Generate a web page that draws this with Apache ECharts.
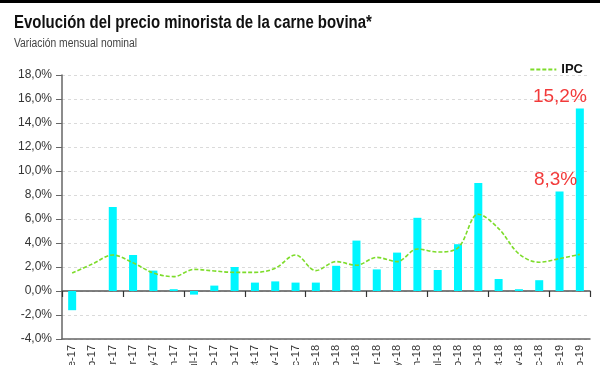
<!DOCTYPE html>
<html><head><meta charset="utf-8">
<script src="https://cdn.jsdelivr.net/npm/echarts@6/dist/echarts.min.js"></script>
<style>html,body{margin:0;padding:0;background:#fff}#c{width:600px;height:365px}</style>
</head><body><div id="c"></div>
<script>
const months = ['ene-17','feb-17','mar-17','abr-17','may-17','jun-17','jul-17','ago-17','sep-17','oct-17','nov-17','dic-17',
  'ene-18','feb-18','mar-18','abr-18','may-18','jun-18','jul-18','ago-18','sep-18','oct-18','nov-18','dic-18','ene-19','feb-19'];
const carne = [-1.6, 0, 7.0, 3.0, 1.7, 0.15, -0.3, 0.45, 2.0, 0.7, 0.8, 0.7, 0.7, 2.1, 4.2, 1.8, 3.2, 6.1, 1.75, 3.9, 9.0, 1.0, 0.15, 0.9, 8.3, 15.2];
const ipc = [1.5, 2.25, 3.0, 2.35, 1.5, 1.2, 1.8, 1.67, 1.55, 1.55, 1.9, 3.0, 1.7, 2.45, 2.15, 2.8, 2.45, 3.5, 3.25, 3.6, 6.4, 5.2, 3.1, 2.4, 2.7, 3.05];
const yTicks = [-4, -2, 0, 2, 4, 6, 8, 10, 12, 14, 16, 18];
const highlighted = {24: '8,3%', 25: '15,2%'};
const titleText = 'Evolución del precio minorista de la carne bovina*';
const subtitleText = 'Variación mensual nominal';

const fmt = v => v.toFixed(1).replace('.', ',') + '%';
const barData = carne.map((v, i) => {
  if (highlighted[i]) {
    return {value: v, label: {show: true, position: 'top', distance: 2, formatter: highlighted[i],
      color: '#f23a3a', fontSize: 19, fontFamily: 'Liberation Sans, Arial, sans-serif',
      offset: i === 25 ? [-20, 0] : [-4, 0]}};
  }
  return v;
});

const chart = echarts.init(document.getElementById('c'), null, {renderer: 'canvas'});
chart.setOption({
  animation: false,
  backgroundColor: '#fff',
  graphic: [
    {type: 'rect', shape: {x: 0, y: 0, width: 600, height: 3}, style: {fill: '#000'}},
    {type: 'text', x: 14, y: 14, scaleX: 0.83, style: {text: titleText, fontFamily: 'Liberation Sans, Arial, sans-serif', fontWeight: 'bold', fontSize: 18, fill: '#111'}},
    {type: 'text', x: 14, y: 38, scaleX: 0.86, style: {text: subtitleText, fontFamily: 'Liberation Sans, Arial, sans-serif', fontSize: 12, fill: '#444'}}
  ],
  legend: {
    data: ['IPC'], right: 12, top: 58, itemWidth: 26, itemHeight: 10, itemGap: 5,
    itemStyle: {opacity: 0},
    textStyle: {fontFamily: 'Liberation Sans, Arial, sans-serif', fontWeight: 'bold', fontSize: 13, color: '#111'}
  },
  grid: {left: 62, right: 10, top: 75, bottom: 26, containLabel: false,
    outerBounds: {left: -100, right: -100, top: -100, bottom: -100}},
  xAxis: [{
    type: 'category', data: months, position: 'bottom',
    axisLine: {onZero: true, lineStyle: {color: '#555', width: 1.5}},
    axisTick: {show: true, length: 6, lineStyle: {color: '#333', width: 1.2}},
    axisLabel: {show: false}
  }, {
    type: 'category', data: months, position: 'bottom', offset: 0,
    axisLine: {onZero: false, lineStyle: {color: '#666', width: 1.5}},
    axisTick: {show: false},
    axisLabel: {rotate: 90, interval: 0, margin: 6, fontSize: 11, color: '#333', fontFamily: 'Liberation Sans, Arial, sans-serif'}
  }],
  yAxis: {
    type: 'value', min: -4, max: 18, interval: 2,
    axisLine: {show: true, lineStyle: {color: '#666', width: 1.5}},
    axisTick: {show: true, length: 6, lineStyle: {color: '#666'}},
    axisLabel: {formatter: v => fmt(v), fontSize: 12, color: '#333', margin: 10, fontFamily: 'Liberation Sans, Arial, sans-serif'},
    splitLine: {show: true, lineStyle: {color: '#dadada', type: [3, 3]}}
  },
  series: [{
    name: 'Carne', type: 'bar', data: barData, barWidth: 8, xAxisIndex: 0,
    itemStyle: {color: '#00f6ff'}
  }, {
    name: 'IPC', type: 'line', data: ipc, smooth: 0.35, symbol: 'none', xAxisIndex: 0,
    lineStyle: {color: '#7ddc2a', width: 1.6, type: [4, 2]},
    itemStyle: {color: '#7ddc2a'}
  }]
});
</script></body></html>
